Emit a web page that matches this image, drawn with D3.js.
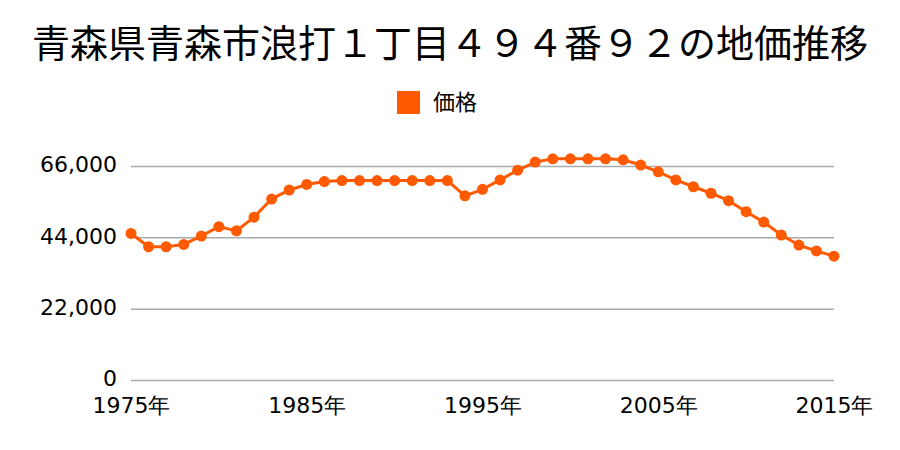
<!DOCTYPE html>
<html><head><meta charset="utf-8">
<script src="https://cdn.jsdelivr.net/npm/d3@7"></script>
<style>body{margin:0;background:#fff}svg{display:block}</style>
</head><body>
<svg id="c" width="900" height="450"></svg>
<script>
const titleText = "青森県青森市浪打１丁目４９４番９２の地価推移";
const seriesName = "価格";
const years = d3.range(1975, 2016);
const prices = [45200, 41100, 41100, 41800, 44400, 47300, 46000, 50200, 55800, 58600,
  60300, 61200, 61500, 61500, 61500, 61500, 61500, 61500, 61500, 56800,
  58800, 61700, 64700, 67200, 68200, 68200, 68200, 68200, 67900, 66300,
  64200, 61700, 59600, 57600, 55300, 51900, 48700, 44700, 41600, 39800, 38200];
const yTicks = [0, 22000, 44000, 66000];
const xTicks = [1975, 1985, 1995, 2005, 2015];

const color = "#ff5a00";
const svg = d3.select("#c");
const x = d3.scaleLinear().domain([1975, 2015]).range([131, 834]);
const y = d3.scaleLinear().domain([0, 66000]).range([380, 166]);
const font = "'DejaVu Sans', sans-serif";
const cjk = "'Noto Sans CJK JP', sans-serif";

svg.append("text").attr("x", 450).attr("y", 57).attr("text-anchor", "middle")
  .attr("font-family", cjk).attr("font-size", 38).attr("fill", "#000").text(titleText);

svg.append("rect").attr("x", 397).attr("y", 91).attr("width", 23).attr("height", 23).attr("fill", color);
svg.append("text").attr("x", 433).attr("y", 110).attr("font-family", cjk).attr("font-size", 22)
  .attr("fill", "#000").text(seriesName);

const yAxis = d3.axisLeft(y).tickValues(yTicks).tickSize(-(834 - 131)).tickPadding(14)
  .tickFormat(d3.format(","));
const gy = svg.append("g").attr("transform", "translate(131,0)").call(yAxis);
gy.select(".domain").remove();
gy.selectAll(".tick line").attr("stroke", "#aaa").attr("stroke-width", 1.5);
gy.selectAll(".tick text").attr("font-family", font).attr("font-size", 22).attr("fill", "#000")
  .attr("dy", "0.26em");

const xAxis = d3.axisBottom(x).tickValues(xTicks).tickSize(0).tickPadding(17)
  .tickFormat(d => d + "年");
const gx = svg.append("g").attr("transform", "translate(0,380)").call(xAxis);
gx.select(".domain").remove();
gx.selectAll(".tick text").attr("font-family", font).attr("font-size", 22).attr("fill", "#000");

const data = years.map((yr, i) => ({yr, v: prices[i]}));
svg.append("path").datum(data)
  .attr("d", d3.line().x(d => x(d.yr)).y(d => y(d.v)))
  .attr("fill", "none").attr("stroke", color).attr("stroke-width", 3);
svg.selectAll("circle.pt").data(data).enter().append("circle").attr("class", "pt")
  .attr("cx", d => x(d.yr)).attr("cy", d => y(d.v)).attr("r", 5.5).attr("fill", color);
</script>
</body></html>
